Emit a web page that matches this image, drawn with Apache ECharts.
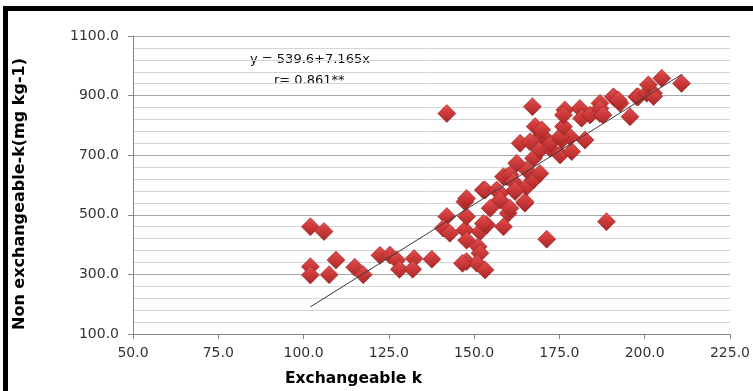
<!DOCTYPE html>
<html>
<head>
<meta charset="utf-8">
<script src="https://cdn.jsdelivr.net/npm/echarts@6/dist/echarts.min.js"></script>
<style>
  html, body { margin: 0; padding: 0; background: #fff; overflow: hidden; }
  #frame { position: absolute; left: 3px; top: 6px; width: 760px; height: 400px; border: 5px solid #000; box-sizing: border-box; }
  #chart { position: absolute; left: 0; top: 0; width: 753px; height: 391px; }
</style>
</head>
<body>
<div id="chart"></div>
<div id="frame"></div>
<script>
// Exchangeable k (x) vs Non exchangeable-k (y)
const exchK = [
  102,106,102,102,107.5,109.5,115,117.5,122.4,125.3,127.3,128.1,132.4,132,137.6,142,
  142,141,142.9,147.3,147.8,147.3,147.8,151.7,153.7,152.7,158.6,147.8,151.2,151.7,147.8,150.8,153.2,146.6,
  152.7,153.2,156.6,157.6,157.6,162,164.9,164.9,160,160.5,154.7,171.3,188.8,
  158.6,159.6,160.5,161.5,165.4,162,167.4,165.4,169.3,162.5,167.4,169.3,172.3,175.2,178.6,
  163.5,166.4,172.3,175.7,178.1,182.5,169.8,175.2,167.9,169.8,176.2,167.1,176.6,181,176.2,
  181.5,184,186.9,186.9,191.3,192.8,190.8,192.3,195.7,197.7,198.1,200.6,202.6,202.6,201.1,205,210.8,186.9,187.8
];
const nonExchK = [
  460,444,326,298,299,348,324,299,364,365,348,317,353,317,351,840,
  494,455,438,449,494,544,555,443,466,471,460,415,393,371,343,337,315,337,
  583,583,583,572,550,578,539,544,505,522,522,418,477,
  628,628,634,611,594,583,617,650,639,673,690,717,723,701,712,
  740,745,740,751,762,751,768,762,796,785,796,863,852,857,835,
  824,835,840,874,891,874,896,885,829,896,896,908,908,897,936,958,941,857,835
];
// fitted line as drawn: y = -539.6 + 7.165x over the data range
const trendSlope = 7.165;
const trendIntercept = -539.6;
const trendRange = [102, 211];

const xTicks = { min: 50, max: 225, interval: 25 };
const yTicks = { min: 100, max: 1100, interval: 200 };

const chart = echarts.init(document.getElementById('chart'));
const font = 'DejaVu Sans';

chart.setOption({
  animation: false,
  backgroundColor: '#fff',
  grid: { left: 133, right: 23, top: 36, bottom: 57 },
  xAxis: {
    type: 'value', min: xTicks.min, max: xTicks.max, interval: xTicks.interval,
    axisLine: { lineStyle: { color: '#868686' } },
    axisTick: { show: true, length: 5, lineStyle: { color: '#868686' } },
    axisLabel: { margin: 12, color: '#333', fontFamily: font, fontSize: 14, formatter: v => v.toFixed(1) },
    splitLine: { show: false }
  },
  yAxis: {
    type: 'value', min: yTicks.min, max: yTicks.max, interval: yTicks.interval,
    axisLine: { show: true, lineStyle: { color: '#868686' } },
    axisTick: { show: true, length: 5, lineStyle: { color: '#868686' } },
    axisLabel: { margin: 14, color: '#333', fontFamily: font, fontSize: 14, formatter: v => v.toFixed(1) },
    splitLine: { lineStyle: { color: '#a6a6a6' } },
    minorTick: { show: false, splitNumber: 5 },
    minorSplitLine: { show: true, lineStyle: { color: '#d4d4d4' } }
  },
  graphic: [
    { type: 'text', left: 250, top: 53, style: { text: 'y = 539.6+7.165x', fill: '#111', font: '13px "DejaVu Sans"' } },
    { type: 'text', left: 274, top: 74, style: { text: 'r= 0.861**', fill: '#111', font: '13px "DejaVu Sans"' } },
    { type: 'text', left: 285, top: 371, style: { text: 'Exchangeable k', fill: '#000', font: 'bold 15.5px "DejaVu Sans"' } },
    { type: 'text', x: 20, y: 194, rotation: Math.PI / 2,
      style: { text: 'Non exchangeable-k(mg kg-1)', fill: '#000', font: 'bold 16px "DejaVu Sans"', align: 'center', verticalAlign: 'middle' } }
  ],
  series: [
    {
      type: 'scatter',
      symbol: 'diamond',
      symbolSize: 18,
      data: exchK.map((x, i) => [x, nonExchK[i]]),
      itemStyle: {
        opacity: 1,
        color: new echarts.graphic.LinearGradient(0, 0, 0, 1, [
          { offset: 0, color: '#e25050' },
          { offset: 0.5, color: '#cc3838' },
          { offset: 1, color: '#a52828' }
        ]),
        borderColor: '#962424', borderWidth: 0.6
      },
      z: 3
    },
    {
      type: 'line',
      data: trendRange.map(x => [x, trendIntercept + trendSlope * x]),
      symbol: 'none',
      lineStyle: { color: '#3a3a3a', width: 1 },
      z: 4
    }
  ]
});
</script>
</body>
</html>
